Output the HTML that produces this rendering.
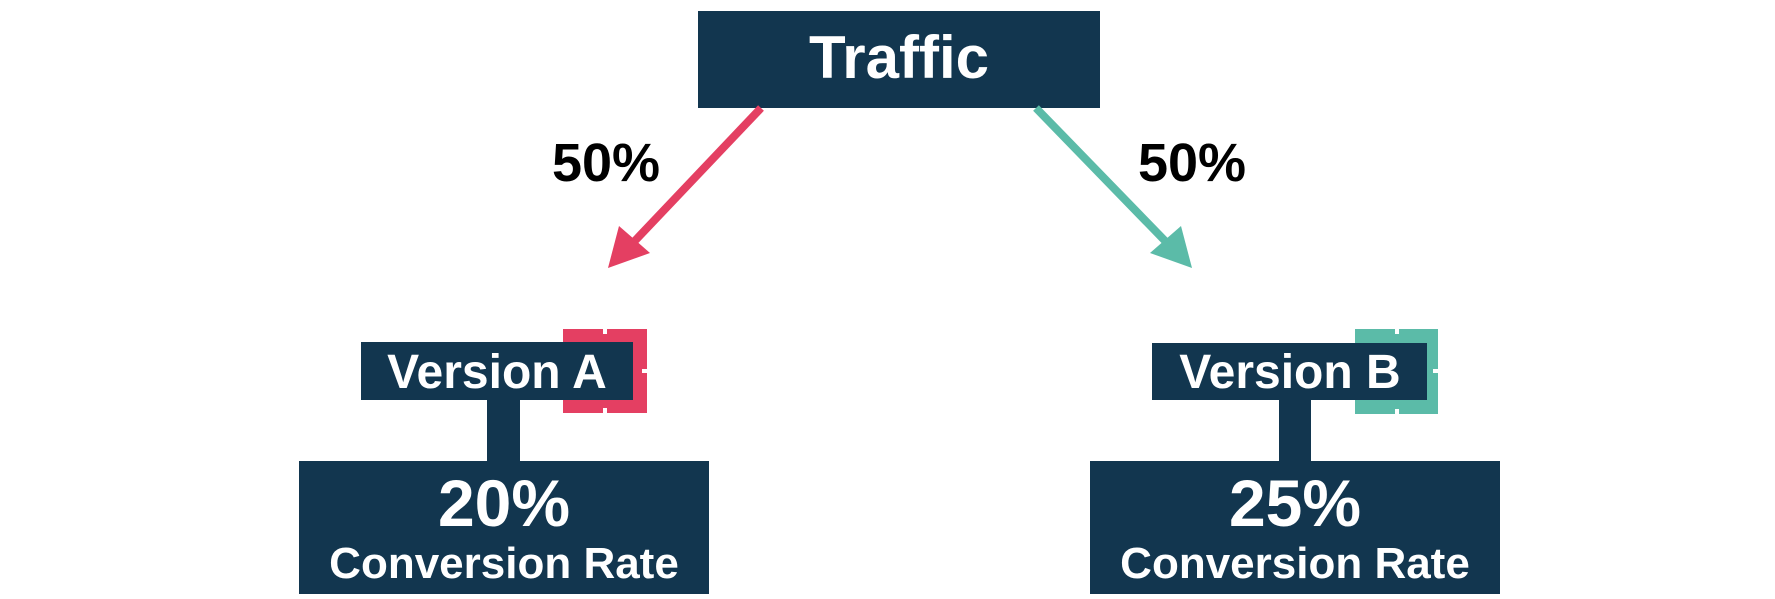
<!DOCTYPE html>
<html><head><meta charset="utf-8"><style>
html,body{margin:0;padding:0;background:#fff;}
svg{display:block}
text{font-family:"Liberation Sans",sans-serif;font-weight:bold;}
</style></head><body>
<svg width="1775" height="599" viewBox="0 0 1775 599" xmlns="http://www.w3.org/2000/svg">
<rect width="1775" height="599" fill="#fff"/>
<!-- Traffic -->
<rect x="698" y="11" width="402" height="97" fill="#12364f"/>
<text x="899" y="78" font-size="60" fill="#fff" text-anchor="middle">Traffic</text>
<!-- arrows -->
<line x1="761" y1="108" x2="630" y2="246" stroke="#e43f62" stroke-width="8"/>
<polygon points="608,268 619,226 650,253" fill="#e43f62"/>
<line x1="1036" y1="108" x2="1170" y2="246" stroke="#5bbba8" stroke-width="8"/>
<polygon points="1192,268 1150,253 1181,226" fill="#5bbba8"/>
<text x="606" y="181" font-size="54" fill="#000" text-anchor="middle">50%</text>
<text x="1192" y="181" font-size="54" fill="#000" text-anchor="middle">50%</text>
<!-- Version A -->
<rect x="563" y="329" width="84" height="84" fill="#e43f62"/>
<rect x="603" y="329" width="4" height="5" fill="#fff"/>
<rect x="603" y="408" width="4" height="5" fill="#fff"/>
<rect x="642" y="369" width="5" height="4" fill="#fff"/>
<rect x="361" y="342" width="272" height="58" fill="#12364f"/>
<text x="497" y="388" font-size="48" fill="#fff" text-anchor="middle">Version A</text>
<rect x="487" y="400" width="33" height="62" fill="#12364f"/>
<rect x="299" y="461" width="410" height="133" fill="#12364f"/>
<text x="504" y="526" font-size="66" fill="#fff" text-anchor="middle">20%</text>
<text x="504" y="578" font-size="44" fill="#fff" text-anchor="middle">Conversion Rate</text>
<!-- Version B -->
<rect x="1355" y="329" width="83" height="85" fill="#5bbba8"/>
<rect x="1395" y="329" width="4" height="5" fill="#fff"/>
<rect x="1395" y="409" width="4" height="5" fill="#fff"/>
<rect x="1433" y="369" width="5" height="4" fill="#fff"/>
<rect x="1152" y="343" width="275" height="57" fill="#12364f"/>
<text x="1290" y="388" font-size="48" fill="#fff" text-anchor="middle">Version B</text>
<rect x="1279" y="400" width="32" height="62" fill="#12364f"/>
<rect x="1090" y="461" width="410" height="133" fill="#12364f"/>
<text x="1295" y="526" font-size="66" fill="#fff" text-anchor="middle">25%</text>
<text x="1295" y="578" font-size="44" fill="#fff" text-anchor="middle">Conversion Rate</text>
</svg>
</body></html>
